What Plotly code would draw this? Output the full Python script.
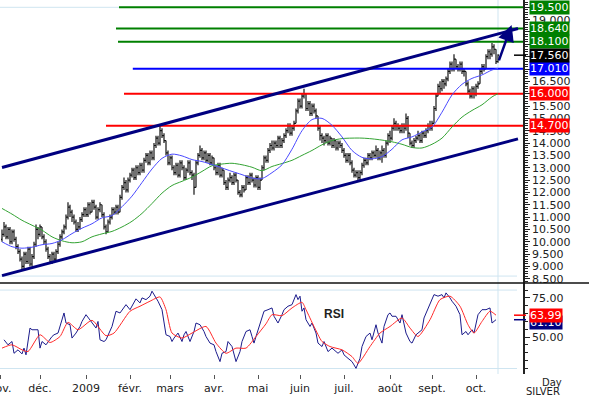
import plotly.graph_objects as go
import pandas as pd

# ---------------- data ----------------
start_date = "2008-11-04"
first_open = 10.1

close = [
    10.3, 10.6, 10.2, 10.5, 10.0, 10.4, 10.1, 9.8,
    9.6, 9.3, 9.0, 9.5, 9.2, 9.7, 9.1, 9.4,
    9.9, 10.5, 10.3, 10.6, 10.2,
    10.0, 9.7, 9.4, 9.2, 9.5, 9.3,
    9.6, 9.9, 10.2, 10.4, 10.6,
    11.0, 11.4, 11.2, 11.0,
    10.8, 10.5, 10.6, 10.9, 11.1,
    11.3, 11.1, 11.5, 11.2, 11.6, 11.4, 11.0, 11.3, 11.5, 11.1,
    10.6, 10.4, 10.8,
    11.0, 11.3, 11.2, 11.4, 11.2,
    11.8, 12.2, 12.4, 12.1, 12.5,
    12.7, 12.9, 12.6, 13.0, 12.8, 13.1, 12.9,
    13.3, 13.5, 13.2, 13.6, 13.4,
    13.9, 14.2, 14.0, 14.5, 14.3, 14.1,
    13.6, 13.2, 13.4, 13.0,
    12.8, 13.1, 12.7, 13.2, 13.0, 12.6, 12.9, 13.2, 12.8, 12.7,
    12.2,
    13.2, 13.5, 13.7, 13.4, 13.6, 13.3, 13.5, 13.2, 13.4,
    13.0, 12.8, 13.1, 12.7, 12.9,
    12.4, 12.2, 12.5,
    12.6, 12.4, 12.7, 12.5,
    12.0, 11.9, 12.2, 12.1,
    12.6, 12.4, 12.7, 12.5,
    12.3, 12.6, 12.2, 12.5,
    13.0, 13.4, 13.3, 13.7, 13.9,
    13.8, 14.0, 13.9, 14.2, 13.9, 14.1, 14.3,
    14.5, 14.7, 14.4, 14.6, 14.8,
    15.3, 15.7, 15.5, 15.9, 16.0,
    15.4, 15.6, 15.2, 15.5, 15.3, 15.1,
    14.6, 14.3,
    14.2, 14.1, 14.3, 14.0, 14.2,
    13.9, 14.1, 13.8, 14.0, 13.9,
    13.7, 13.5, 13.3, 13.5, 13.2,
    12.9, 12.7, 12.8, 12.6, 12.8,
    13.1, 13.3, 13.2, 13.5, 13.4,
    13.6, 13.5, 13.7, 13.4, 13.6, 13.7, 13.5,
    14.0, 14.3, 14.2,
    14.6, 14.8, 14.7, 14.6,
    14.5, 14.7, 14.6,
    15.0, 14.4,
    14.0, 13.9, 14.1,
    14.2, 14.3, 14.1, 14.4, 14.3,
    14.5, 14.7, 14.6, 14.8,
    15.4, 15.9,
    16.3, 16.2, 16.5, 16.4, 16.6,
    16.9, 17.2, 17.0, 17.4,
    17.1, 17.0, 17.2, 16.9, 16.9,
    16.4, 16.1, 15.9, 16.2,
    16.0, 16.3, 16.4,
    16.9, 17.1, 17.0,
    17.5, 17.7, 17.6, 17.9, 17.8,
    17.3, 17.56,
]

high = [
    10.5, 10.8, 10.7, 10.6, 10.6, 10.5, 10.5, 10.2,
    9.9, 9.7, 9.4, 9.6, 9.6, 9.8, 9.8, 9.5,
    10.0, 10.7, 10.6, 10.7, 10.6,
    10.3, 10.1, 9.8, 9.5, 9.6, 9.6,
    9.7, 10.0, 10.3, 10.5, 10.7,
    11.1, 11.6, 11.5, 11.3,
    11.1, 10.9, 10.8, 11.0, 11.2,
    11.4, 11.4, 11.6, 11.6, 11.7, 11.7, 11.5, 11.4, 11.6, 11.5,
    11.2, 10.7, 10.9,
    11.1, 11.4, 11.4, 11.5, 11.5,
    11.9, 12.3, 12.6, 12.5, 12.6,
    12.8, 13.0, 13.0, 13.1, 13.1, 13.2, 13.2,
    13.4, 13.6, 13.6, 13.7, 13.7,
    14.0, 14.3, 14.3, 14.7, 14.6, 14.4,
    14.1, 13.7, 13.5, 13.5,
    13.1, 13.2, 13.2, 13.3, 13.3, 13.1, 13.0, 13.3, 13.3, 12.9,
    12.8,
    13.3, 13.6, 13.9, 13.8, 13.7, 13.7, 13.6, 13.6, 13.5,
    13.4, 13.1, 13.2, 13.2, 13.0,
    12.9, 12.5, 12.6,
    12.8, 12.7, 12.8, 12.8,
    12.5, 12.1, 12.3, 12.3,
    12.7, 12.7, 12.8, 12.8,
    12.6, 12.7, 12.7, 12.6,
    13.1, 13.5, 13.5, 13.8, 14.0,
    14.1, 14.1, 14.1, 14.3, 14.3, 14.2, 14.4,
    14.6, 14.8, 14.8, 14.7, 14.9,
    15.4, 15.8, 15.8, 16.0, 16.2,
    16.0, 15.7, 15.7, 15.6, 15.6, 15.4,
    15.1, 14.7,
    14.4, 14.3, 14.4, 14.4, 14.3,
    14.2, 14.2, 14.1, 14.1, 14.1,
    14.0, 13.8, 13.6, 13.6, 13.6,
    13.3, 13.0, 12.9, 12.9, 12.9,
    13.2, 13.4, 13.4, 13.6, 13.6,
    13.7, 13.7, 13.9, 13.8, 13.7, 13.9, 13.8,
    14.1, 14.4, 14.5,
    14.7, 15.0, 14.9, 14.8,
    14.7, 14.8, 14.8,
    15.2, 15.1,
    14.4, 14.1, 14.2,
    14.3, 14.5, 14.4, 14.5, 14.5,
    14.6, 14.8, 14.9, 14.9,
    15.5, 16.0,
    16.4, 16.5, 16.6, 16.6, 16.7,
    17.0, 17.3, 17.3, 17.6,
    17.4, 17.2, 17.3, 17.3, 17.0,
    16.9, 16.5, 16.2, 16.3,
    16.3, 16.4, 16.5,
    17.0, 17.2, 17.2,
    17.6, 17.8, 17.8, 18.05, 18.0,
    17.8, 17.6,
]

low = [
    10.0, 10.2, 10.1, 10.1, 9.9, 9.9, 10.0, 9.7,
    9.5, 9.2, 8.9, 8.9, 9.1, 9.1, 9.0, 9.0,
    9.3, 9.8, 10.1, 10.2, 10.1,
    9.9, 9.6, 9.3, 9.1, 9.1, 9.2,
    9.2, 9.5, 9.8, 10.1, 10.3,
    10.5, 10.9, 11.0, 10.8,
    10.7, 10.4, 10.4, 10.5, 10.8,
    11.0, 11.0, 11.0, 11.1, 11.2, 11.3, 10.9, 10.9, 11.2, 11.0,
    10.5, 10.3, 10.4,
    10.7, 10.9, 11.1, 11.1, 11.1,
    11.2, 11.7, 12.1, 12.0, 12.0,
    12.4, 12.6, 12.5, 12.5, 12.7, 12.7, 12.8,
    12.8, 13.2, 13.1, 13.1, 13.3,
    13.3, 13.8, 13.9, 13.9, 14.2, 14.0,
    13.5, 13.1, 13.1, 12.9,
    12.7, 12.7, 12.6, 12.6, 12.9, 12.5, 12.5, 12.8, 12.7, 12.5,
    11.9,
    12.2, 13.1, 13.4, 13.3, 13.3, 13.2, 13.2, 13.1, 13.1,
    12.9, 12.7, 12.7, 12.6, 12.6,
    12.3, 12.1, 12.1,
    12.4, 12.3, 12.3, 12.4,
    11.9, 11.8, 11.8, 12.0,
    12.1, 12.3, 12.3, 12.4,
    12.2, 12.2, 12.1, 12.1,
    12.5, 12.9, 13.2, 13.2, 13.6,
    13.7, 13.7, 13.8, 13.8, 13.8, 13.8, 14.0,
    14.2, 14.4, 14.3, 14.3, 14.5,
    14.8, 15.2, 15.4, 15.4, 15.8,
    15.3, 15.3, 15.1, 15.1, 15.2, 15.0,
    14.5, 14.1,
    14.0, 13.9, 14.0, 13.9, 13.9,
    13.8, 13.8, 13.7, 13.7, 13.8,
    13.6, 13.4, 13.2, 13.2, 13.1,
    12.8, 12.6, 12.6, 12.5, 12.5,
    12.7, 13.0, 13.1, 13.1, 13.3,
    13.3, 13.4, 13.4, 13.3, 13.3, 13.2, 13.4,
    13.4, 13.9, 14.0,
    14.1, 14.5, 14.5, 14.5,
    14.4, 14.4, 14.4,
    14.5, 14.2,
    13.9, 13.8, 13.8,
    14.0, 14.1, 14.0, 14.0, 14.2,
    14.2, 14.4, 14.5, 14.5,
    14.8, 15.3,
    15.9, 16.0, 16.1, 16.2, 16.3,
    16.5, 16.8, 16.9, 16.9,
    17.0, 16.9, 16.9, 16.8, 16.7,
    16.3, 16.0, 15.8, 15.8,
    15.8, 15.9, 16.2,
    16.4, 16.8, 16.9,
    17.0, 17.4, 17.4, 17.5, 17.6,
    17.2, 17.25,
]

# moving averages (day index -> value)
ma_day = [0, 5, 10, 15, 20, 25, 30, 35, 40, 45, 50, 55, 60, 65, 70, 75, 80, 85, 90, 95,
          100, 105, 110, 115, 120, 125, 130, 135, 140, 145, 150, 155, 160, 165, 170, 175,
          180, 185, 190, 195, 200, 205, 210, 215, 220, 225, 230, 235, 240, 245, 248]
ma_blue = [10.0, 9.8, 9.74, 9.78, 9.88, 9.93, 10.08, 10.33, 10.55, 10.73, 10.97, 11.06,
           11.42, 11.85, 12.4, 12.95, 13.38, 13.55, 13.48, 13.33, 13.25, 13.13, 12.99,
           12.85, 12.72, 12.58, 12.56, 12.8, 13.12, 13.75, 14.5, 14.95, 15.0, 14.72,
           14.25, 13.7, 13.42, 13.36, 13.45, 13.75, 14.13, 14.25, 14.45, 14.65, 15.25,
           15.95, 16.38, 16.62, 16.76, 16.96, 17.02]
ma_green = [11.35, 11.12, 10.87, 10.67, 10.47, 10.2, 10.04, 9.96, 10.0, 10.2, 10.32,
            10.42, 10.6, 10.83, 11.15, 11.55, 11.97, 12.28, 12.45, 12.62, 12.85, 13.08,
            13.15, 13.18, 13.12, 13.02, 12.88, 13.05, 13.17, 13.3, 13.5, 13.7, 13.93,
            14.1, 14.18, 14.2, 14.2, 14.17, 14.12, 14.05, 13.95, 13.82, 13.8, 13.95,
            14.2, 14.65, 15.05, 15.32, 15.55, 15.87, 16.0]

# RSI (blue) and its signal (red)
rsi_day = [1, 3, 5, 6, 8, 10, 11, 12, 14, 15, 18, 19, 20, 22, 25, 26, 28, 30, 31, 32,
           34, 35, 37, 39, 40, 42, 44, 45, 47, 48, 49, 51, 52, 55, 56, 57, 59, 61, 62, 64,
           65, 67, 69, 70, 72, 74, 75, 77, 78, 80, 81, 82, 84, 85, 86, 88, 90, 91, 92, 94,
           96, 97, 99, 101, 102, 104, 106, 107, 109, 110, 112, 113, 115, 116, 117, 119,
           120, 122, 124, 125, 126, 127, 130, 131, 133, 135, 136, 138, 140, 141, 143, 145,
           147, 148, 149, 150, 151, 152, 154, 155, 157, 158, 160, 161, 163, 165, 166, 168,
           170, 171, 173, 175, 176, 177, 179, 180, 182, 184, 185, 187, 188, 190, 191, 193,
           194, 195, 197, 199, 200, 201, 202, 204, 205, 207, 208, 210, 211, 213, 215, 216,
           218, 220, 221, 222, 224, 225, 227, 229, 230, 232, 233, 235, 236, 238, 240, 242,
           244, 245, 247]
rsi_val = [48.3, 45.1, 47.2, 39.7, 41.9, 39.3, 43, 38.7, 55.8, 54.7,
           54.7, 43, 47.2, 45.1, 50.4, 51.5, 52.6, 62.2, 65.4, 59,
           57.9, 49.4, 52.6, 56.8, 60, 64.3, 61.1, 59, 55.8, 60,
           48.3, 47.2, 48.3, 56.8, 62.2, 66.5, 65.4, 68.6, 70.7, 67.5,
           69.7, 74.4, 71.8, 75, 73.9, 76.1, 79.3, 75, 72.9, 67.5,
           59, 51.5, 50.4, 47.2, 49.4, 52.6, 47.2, 51.5, 53.6, 47.2,
           53.6, 59, 57.9, 53.6, 50.4, 46.2, 45.1, 40.8, 34.4, 39.7,
           40.8, 47.2, 44, 39.7, 34.4, 40.8, 47.2, 53.6, 54.7, 50.4,
           46.2, 50.4, 63.3, 66.5, 67.5, 68.6, 63.3, 59, 64.3, 67.5,
           69.7, 70.7, 77.1, 73.9, 76.1, 66.5, 68.6, 61.1, 56.8, 59,
           52.6, 46.2, 44, 47.2, 40.8, 43, 41.9, 39.7, 41.9, 38.7,
           36.5, 34.4, 32.3, 30.1, 36.5, 44, 50.4, 52.6, 48.3, 57.9,
           52.6, 46.2, 56.8, 64.3, 65.4, 63.3, 63.3, 59, 64.3, 57.9,
           52.6, 47.2, 46.2, 51.5, 52.6, 54.7, 62.2, 68.6, 75, 77.1,
           76.1, 77.1, 75, 78.2, 75, 72.9, 69.7, 64.3, 51.5, 53.6,
           51.5, 54.7, 52.6, 64.3, 67.5, 67.5, 68.6, 59, 61.1]
sig_day = [0, 5, 10, 13, 19, 24, 29, 33, 38, 45, 52, 56, 64, 69, 74, 79, 82, 85, 90, 95,
           102, 107, 112, 117, 122, 127, 132, 135, 140, 145, 150, 152, 156, 160, 164, 170,
           175, 178, 184, 189, 194, 200, 204, 208, 214, 219, 224, 229, 233, 236, 240, 244, 247]
sig_val = [43, 45.1, 41.9, 40.8, 51.5, 46.6, 50.4, 59.4, 54.7, 60.7,
           50.9, 52.6, 66.5, 69.7, 72.9, 75.6, 67.5, 52.6, 49.4, 52.6,
           56.8, 46.2, 39.7, 43, 43, 50.4, 58.5, 64.3, 63.7, 68.6,
           72.2, 67.5, 56.8, 47.2, 44, 41.9, 37.6, 33.3, 44, 52.6,
           56.8, 62.2, 55.8, 50.4, 61.1, 73.9, 76.1, 69.7, 57.9, 52.6,
           60, 66.5, 63.99]

# trend channel (day index, price)
channel_day = [0, 258]
channel_upper = [13.01, 18.64]
channel_lower = [8.63, 14.17]
arrow_day = [248.2, 254.8]
arrow_price = [17.29, 18.78]

# horizontal levels
levels = [19.50, 18.64, 18.10, 17.01, 16.00, 14.70]
level_from_day = [58.5, 57, 58, 65.4, 61, 52]
level_colors = ["#008000", "#008000", "#008000", "#0000ff", "#ff0000", "#ff0000"]
last_price = 17.56

# price axis ticks (labels hidden where a level box covers them)
price_ticks = [8.5, 9.0, 9.5, 10.0, 10.5, 11.0, 11.5, 12.0, 12.5, 13.0, 13.5, 14.0,
               14.5, 15.0, 15.5, 16.0, 16.5, 17.0, 17.5, 18.0, 18.5, 19.0, 19.5]
covered_ticks = [16.0, 17.0, 17.5, 18.0, 18.5, 19.5]
rsi_ticks = [25, 50, 75]

month_labels = ["nov.", "déc.", "2009", "févr.", "mars", "avr.", "mai", "juin",
                "juil.", "août", "sept.", "oct."]

# ---------------- build ----------------
n = len(close)
day = list(range(n))
open_ = [first_open] + close[:-1]

cal = pd.bdate_range("2008-11-03", "2009-10-31")
cal_s = pd.Series(range(len(cal)), index=cal)
firsts = cal_s.groupby([cal.year, cal.month]).first()
tick_pos = [int(v) - 1 for v in firsts.values]

price_ticktext = ["" if t in covered_ticks else f"{t:.3f}" for t in price_ticks]

X_MAX = 260.5
PRICE_RANGE = [8.329, 19.796]
RSI_RANGE = [26.5, 84.5]
SPLIT = 0.2433
AX_PX = 523.0

FONT = "DejaVu Sans"
NAVY = "#000080"
LIGHT = "#cfe5f1"

fig = go.Figure()

# level lines
for lv, d0, c in zip(levels, level_from_day, level_colors):
    fig.add_trace(go.Scatter(x=[d0, X_MAX], y=[lv, lv], mode="lines",
                             line=dict(color=c, width=2), hoverinfo="skip",
                             showlegend=False, xaxis="x", yaxis="y"))

# channel
for arr in (channel_upper, channel_lower):
    fig.add_trace(go.Scatter(x=channel_day, y=arr, mode="lines",
                             line=dict(color=NAVY, width=3), hoverinfo="skip",
                             showlegend=False, xaxis="x", yaxis="y"))

# moving averages
fig.add_trace(go.Scatter(x=ma_day, y=ma_green, mode="lines",
                         line=dict(color="#33a333", width=1, shape="spline", smoothing=0.8),
                         showlegend=False, hoverinfo="skip", xaxis="x", yaxis="y"))
fig.add_trace(go.Scatter(x=ma_day, y=ma_blue, mode="lines",
                         line=dict(color="#4a4aff", width=1, shape="spline", smoothing=0.8),
                         showlegend=False, hoverinfo="skip", xaxis="x", yaxis="y"))

# price bars
fig.add_trace(go.Ohlc(x=day, open=open_, high=high, low=low, close=close,
                      increasing=dict(line=dict(color="#141414", width=1.2)),
                      decreasing=dict(line=dict(color="#141414", width=1.2)),
                      tickwidth=0.5, showlegend=False, hoverinfo="skip",
                      xaxis="x", yaxis="y"))

# RSI
fig.add_trace(go.Scatter(x=rsi_day, y=rsi_val, mode="lines",
                         line=dict(color="#1c1c8c", width=1),
                         showlegend=False, hoverinfo="skip", xaxis="x", yaxis="y2"))
fig.add_trace(go.Scatter(x=sig_day, y=sig_val, mode="lines",
                         line=dict(color="#ff2a2a", width=1, shape="spline", smoothing=0.6),
                         showlegend=False, hoverinfo="skip", xaxis="x", yaxis="y2"))

shapes = []
# light frame lines
for yv in (19.5, 8.61):
    shapes.append(dict(type="line", xref="paper", yref="y", x0=0, x1=517 / AX_PX,
                       y0=yv, y1=yv, line=dict(color=LIGHT, width=1), layer="below"))
for yv in (80, 30):
    shapes.append(dict(type="line", xref="paper", yref="y2", x0=0, x1=517 / AX_PX,
                       y0=yv, y1=yv, line=dict(color=LIGHT, width=1), layer="below"))
shapes.append(dict(type="line", xref="x", yref="paper", x0=day[-1], x1=day[-1],
                   y0=0, y1=1, line=dict(color=LIGHT, width=1), layer="below"))
# separator between panels
shapes.append(dict(type="line", xref="paper", yref="paper", x0=0, x1=589 / AX_PX,
                   y0=SPLIT, y1=SPLIT, line=dict(color="#111", width=1.5)))
# last value ticks
shapes.append(dict(type="line", xref="paper", yref="y", x0=514 / AX_PX, x1=526 / AX_PX,
                   y0=last_price, y1=last_price, line=dict(color="#000", width=1.5)))
shapes.append(dict(type="line", xref="paper", yref="y2", x0=514 / AX_PX, x1=526 / AX_PX,
                   y0=rsi_val[-1], y1=rsi_val[-1], line=dict(color=NAVY, width=1.5)))
shapes.append(dict(type="line", xref="paper", yref="y2", x0=514 / AX_PX, x1=526 / AX_PX,
                   y0=sig_val[-1], y1=sig_val[-1], line=dict(color="#ff0000", width=1.5)))

annotations = []
box_x = 529 / AX_PX
box_items = list(zip(levels, level_colors)) + [(last_price, "#000000")]
for lv, c in box_items:
    annotations.append(dict(xref="paper", yref="y", x=box_x, y=lv, xanchor="left",
                            yanchor="middle", text=f"{lv:.3f}", showarrow=False,
                            bgcolor=c, borderpad=0,
                            font=dict(family=FONT, size=11, color="white")))
annotations.append(dict(xref="paper", yref="y2", x=box_x, y=rsi_val[-1] - 1.5,
                        xanchor="left", yanchor="middle", text=f"{rsi_val[-1]:.2f}",
                        showarrow=False, bgcolor=NAVY, borderpad=0,
                        font=dict(family=FONT, size=11, color="white")))
annotations.append(dict(xref="paper", yref="y2", x=box_x, y=sig_val[-1],
                        xanchor="left", yanchor="middle", text=f"{sig_val[-1]:.2f}",
                        showarrow=False, bgcolor="#ff0000", borderpad=0,
                        font=dict(family=FONT, size=11, color="white")))
annotations.append(dict(xref="x", yref="y2", x=166, y=65, text="<b>RSI</b>",
                        xanchor="center", yanchor="middle",
                        showarrow=False, font=dict(family="Liberation Sans", size=12,
                                                   color="#222")))
annotations.append(dict(xref="paper", yref="paper", x=552 / AX_PX, y=-0.022,
                        xanchor="center", yanchor="middle",
                        text="Day", showarrow=False,
                        font=dict(family=FONT, size=10, color="#222")))
annotations.append(dict(xref="paper", yref="paper", x=543 / AX_PX, y=-0.046,
                        xanchor="center", yanchor="middle",
                        text="SILVER", showarrow=False,
                        font=dict(family=FONT, size=10, color="#222")))
annotations.append(dict(xref="x", yref="y", axref="x", ayref="y",
                        x=arrow_day[1], y=arrow_price[1],
                        ax=arrow_day[0], ay=arrow_price[0],
                        showarrow=True, arrowhead=2, arrowsize=1.3, arrowwidth=2.5,
                        arrowcolor=NAVY, text=""))

fig.update_layout(
    width=589, height=397,
    margin=dict(l=0, r=589 - int(AX_PX), t=0, b=23, autoexpand=False),
    paper_bgcolor="white", plot_bgcolor="white",
    font=dict(family=FONT, size=11, color="#222"),
    showlegend=False,
    shapes=shapes, annotations=annotations,
    xaxis=dict(domain=[0, 1], anchor="y2", range=[-1, X_MAX], showgrid=False,
               automargin=False,
               zeroline=False, showline=False, rangeslider=dict(visible=False),
               tickmode="array", tickvals=tick_pos[:len(month_labels)],
               ticktext=month_labels, ticks="outside", ticklen=4, tickcolor="#555",
               ticklabeloverflow="allow",
               tickfont=dict(family=FONT, size=11, color="#222")),
    yaxis=dict(domain=[SPLIT, 1], anchor="x", side="right", range=PRICE_RANGE,
               automargin=False,
               showgrid=False, zeroline=False, showline=True, linecolor="#222",
               linewidth=1.5, ticks="outside", ticklen=5, tickcolor="#222",
               tickmode="array", tickvals=price_ticks, ticktext=price_ticktext,
               minor=dict(dtick=0.1, ticks="outside", ticklen=3, tickcolor="#222"),
               tickfont=dict(family=FONT, size=11, color="#222")),
    yaxis2=dict(domain=[0, SPLIT], anchor="x", side="right", range=RSI_RANGE,
                automargin=False,
                showgrid=False, zeroline=False, showline=True, linecolor="#222",
                linewidth=1.5, ticks="outside", ticklen=5, tickcolor="#222",
                tickvals=rsi_ticks, tickformat=".2f",
                minor=dict(dtick=5, ticks="outside", ticklen=3, tickcolor="#222"),
                tickfont=dict(family=FONT, size=11, color="#222")),
)

fig.write_html(
    "out.html",
    config={"displayModeBar": False},
    post_script="document.body.style.margin='0';document.body.style.overflow='hidden';",
)
